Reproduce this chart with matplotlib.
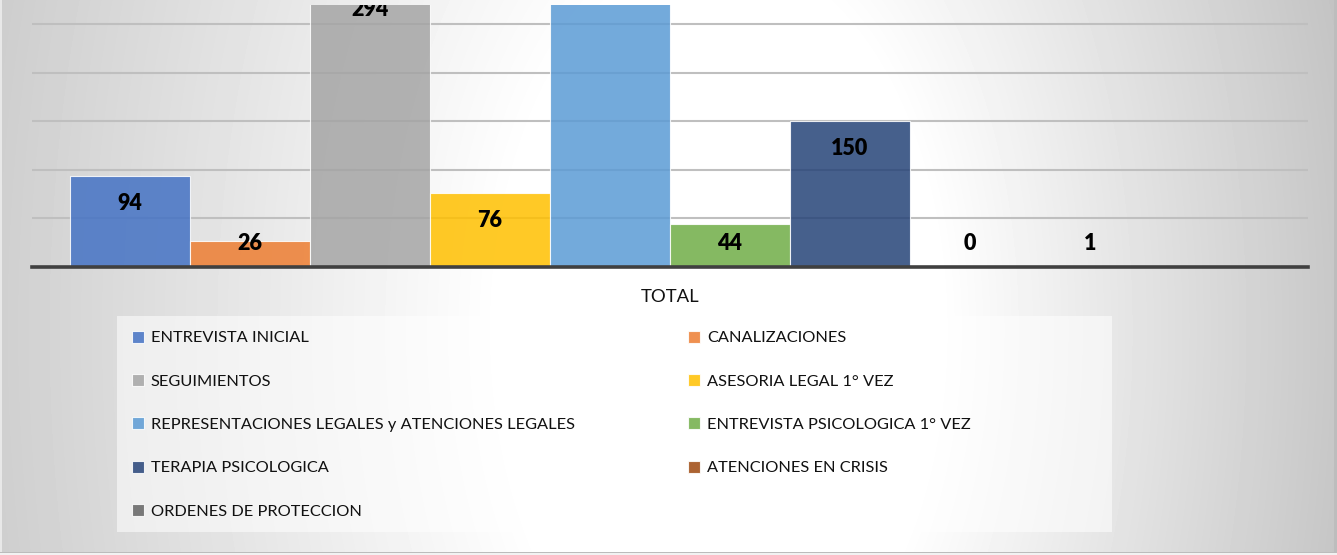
import numpy as np
import matplotlib
matplotlib.use('Agg')
import matplotlib.pyplot as plt
from matplotlib.patches import Rectangle

plt.rcParams['font.family'] = ['Lato', 'DejaVu Sans']

# ---- data ----
series = ['ENTREVISTA INICIAL', 'CANALIZACIONES', 'SEGUIMIENTOS',
          'ASESORIA LEGAL 1° VEZ',
          'REPRESENTACIONES LEGALES y ATENCIONES LEGALES',
          'ENTREVISTA PSICOLOGICA 1° VEZ', 'TERAPIA PSICOLOGICA',
          'ATENCIONES EN CRISIS', 'ORDENES DE PROTECCION']
values = [94, 26, 294, 76, 338, 44, 150, 0, 1]
category = 'TOTAL'
colors = ['#4472C4', '#ED7D31', '#A5A5A5', '#FFC000', '#5B9BD5',
          '#70AD47', '#264478', '#9E480E', '#636363']

W, H = 1337, 555
fig = plt.figure(figsize=(W / 100, H / 100), dpi=100)

# background gradient
bg = fig.add_axes([0, 0, 1, 1], zorder=-10)
xx, yy = np.meshgrid(np.arange(W), np.arange(H))
dx = xx - 720.0
d = np.sqrt(dx ** 2 + (0.6 * (yy - 330.0)) ** 2)
k = np.where(dx < 0, 0.095, 0.14)
g = np.clip(255 - k * np.maximum(0, d - 220), 195, 255)
bg.imshow(g, cmap='gray', vmin=0, vmax=255, extent=[0, W, H, 0], aspect='auto',
          interpolation='bilinear')
bg.set_xlim(0, W); bg.set_ylim(H, 0); bg.axis('off')
# thin frame edges
bg.add_patch(Rectangle((0, 0), 2, H, color='#e8e8e8', lw=0))
bg.add_patch(Rectangle((W - 3, 0), 3, H, color='#bdbdbd', lw=0))
bg.add_patch(Rectangle((0, H - 3), W, 1.2, color='#bcbcbc', lw=0))
bg.add_patch(Rectangle((0, H - 1.8), W, 1.8, color='#f2f2f2', lw=0))
# legend background box
bg.add_patch(Rectangle((117, 316), 995, 216, facecolor='white', alpha=0.55, lw=0))

# main plot
base_y, top_y = 266.7, 5
ax = fig.add_axes([32 / W, (H - base_y) / H, (1308 - 32) / W, (base_y - top_y) / H])
ax.patch.set_alpha(0)
x = np.arange(len(values))
bars = ax.bar(x, values, width=1.0, color=colors, alpha=0.85,
              edgecolor=(1, 1, 1, 0.6), linewidth=0.8, zorder=2)
ax.set_xlim(-0.5 - 38 / 120, 9.5 + 38 / 120)
ax.set_ylim(0, 270)
ax.set_yticks(np.arange(50, 251, 50))
ax.yaxis.grid(True, color='#bfbfbf', lw=1.5)
ax.set_axisbelow(True)
ax.tick_params(axis='y', length=0, labelleft=False)
for s in ['top', 'left', 'right']:
    ax.spines[s].set_visible(False)
ax.spines['bottom'].set_color('#404040')
ax.spines['bottom'].set_linewidth(2.6)
ax.spines['bottom'].set_zorder(4)
ax.set_xticks([4.5])
ax.set_xticklabels([category], fontsize=13.3, color='#111111')
ax.tick_params(axis='x', length=0, pad=16)

for xi, v in zip(x, values):
    ax.text(xi, max(v - 28.5, 23.5), f'{v}', ha='center', va='center',
            fontsize=15.5, fontweight='heavy', color='black', clip_on=True, zorder=5)

handles = list(bars.patches)
common = dict(loc='upper left', frameon=False, fontsize=11.8, handlelength=0.75,
              handleheight=0.75, handletextpad=0.4, labelspacing=1.75,
              borderpad=0, borderaxespad=0, labelcolor='#111111')
leg1 = fig.legend(handles[0::2], series[0::2],
                  bbox_to_anchor=(132 / W, 1 - 330.5 / H), **common)
leg2 = fig.legend(handles[1::2], series[1::2],
                  bbox_to_anchor=(688 / W, 1 - 330.5 / H), **common)

fig.savefig('out.png', dpi=100)
